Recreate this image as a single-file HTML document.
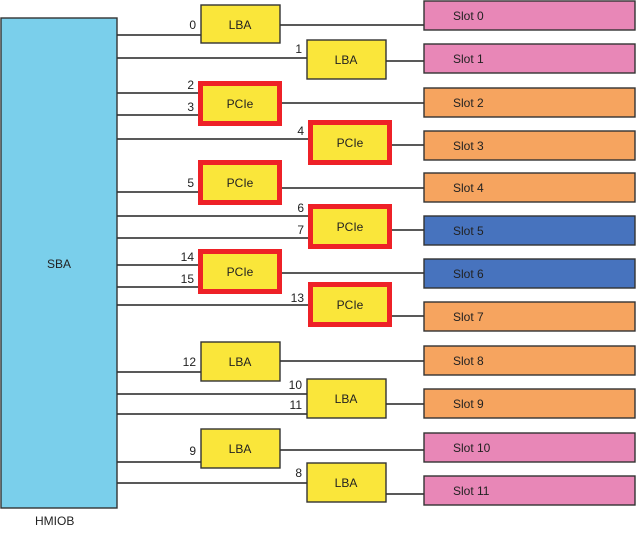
<!DOCTYPE html>
<html><head><meta charset="utf-8"><style>
body{margin:0;background:#fff;width:637px;height:532px;overflow:hidden}
svg text{font-family:"Liberation Sans",sans-serif;font-size:12px;fill:#222}
</style></head><body>
<svg width="637" height="532" viewBox="0 0 637 532" xmlns="http://www.w3.org/2000/svg">
<g stroke="#222" stroke-width="1.4" fill="none">
<!-- SBA to boxes -->
<line x1="117" y1="35" x2="201" y2="35"/>
<line x1="117" y1="58" x2="307" y2="58"/>
<line x1="117" y1="93" x2="199" y2="93"/>
<line x1="117" y1="115" x2="199" y2="115"/>
<line x1="117" y1="139" x2="309" y2="139"/>
<line x1="117" y1="192" x2="199" y2="192"/>
<line x1="117" y1="216" x2="309" y2="216"/>
<line x1="117" y1="238" x2="309" y2="238"/>
<line x1="117" y1="265" x2="199" y2="265"/>
<line x1="117" y1="287" x2="199" y2="287"/>
<line x1="117" y1="305" x2="309" y2="305"/>
<line x1="117" y1="372" x2="201" y2="372"/>
<line x1="117" y1="394" x2="307" y2="394"/>
<line x1="117" y1="414" x2="307" y2="414"/>
<line x1="117" y1="462" x2="201" y2="462"/>
<line x1="117" y1="483" x2="307" y2="483"/>
<!-- boxes to slots -->
<line x1="280" y1="25" x2="424" y2="25"/>
<line x1="386" y1="61" x2="424" y2="61"/>
<line x1="282" y1="103" x2="424" y2="103"/>
<line x1="392" y1="145" x2="424" y2="145"/>
<line x1="282" y1="188" x2="424" y2="188"/>
<line x1="392" y1="230" x2="424" y2="230"/>
<line x1="282" y1="273" x2="424" y2="273"/>
<line x1="392" y1="316" x2="424" y2="316"/>
<line x1="280" y1="361" x2="424" y2="361"/>
<line x1="386" y1="404" x2="424" y2="404"/>
<line x1="280" y1="450" x2="424" y2="450"/>
<line x1="386" y1="494" x2="424" y2="494"/>
</g>
<rect x="1" y="18" width="116" height="490" fill="#7ACFEB" stroke="#333" stroke-width="1.4"/>
<text x="59" y="268" text-anchor="middle">SBA</text>
<text x="35" y="525">HMIOB</text>
<!-- slots -->
<g stroke="#333" stroke-width="1.4">
<rect x="424" y="1" width="211" height="29" fill="#E887B7"/>
<rect x="424" y="44" width="211" height="29" fill="#E887B7"/>
<rect x="424" y="88" width="211" height="29" fill="#F6A45F"/>
<rect x="424" y="131" width="211" height="29" fill="#F6A45F"/>
<rect x="424" y="173" width="211" height="29" fill="#F6A45F"/>
<rect x="424" y="216" width="211" height="29" fill="#4773BE"/>
<rect x="424" y="259" width="211" height="29" fill="#4773BE"/>
<rect x="424" y="302" width="211" height="29" fill="#F6A45F"/>
<rect x="424" y="346" width="211" height="29" fill="#F6A45F"/>
<rect x="424" y="389" width="211" height="29" fill="#F6A45F"/>
<rect x="424" y="433" width="211" height="29" fill="#E887B7"/>
<rect x="424" y="476" width="211" height="29" fill="#E887B7"/>
</g>
<g>
<text x="453" y="20">Slot 0</text><text x="453" y="63">Slot 1</text>
<text x="453" y="107">Slot 2</text><text x="453" y="150">Slot 3</text>
<text x="453" y="192">Slot 4</text><text x="453" y="235">Slot 5</text>
<text x="453" y="278">Slot 6</text><text x="453" y="321">Slot 7</text>
<text x="453" y="365">Slot 8</text><text x="453" y="408">Slot 9</text>
<text x="453" y="452">Slot 10</text><text x="453" y="495">Slot 11</text>
</g>
<!-- LBA -->
<g stroke="#333" stroke-width="1.4" fill="#FAE63A">
<rect x="201" y="5" width="79" height="38"/>
<rect x="307" y="40" width="79" height="39"/>
<rect x="201" y="342" width="79" height="39"/>
<rect x="307" y="379" width="79" height="39"/>
<rect x="201" y="429" width="79" height="39"/>
<rect x="307" y="463" width="79" height="39"/>
</g>
<!-- PCIe -->
<g stroke="#EE2127" stroke-width="5" fill="#FAE63A">
<rect x="200.5" y="83.5" width="79" height="40"/>
<rect x="310.5" y="122.5" width="79" height="40"/>
<rect x="200.5" y="162.5" width="79" height="40"/>
<rect x="310.5" y="206.5" width="79" height="40"/>
<rect x="200.5" y="251.5" width="79" height="40"/>
<rect x="310.5" y="284.5" width="79" height="40"/>
</g>
<g text-anchor="middle">
<text x="240" y="29">LBA</text><text x="346" y="64">LBA</text>
<text x="240" y="108">PCIe</text><text x="350" y="147">PCIe</text>
<text x="240" y="187">PCIe</text><text x="350" y="231">PCIe</text>
<text x="240" y="276">PCIe</text><text x="350" y="309">PCIe</text>
<text x="240" y="366">LBA</text><text x="346" y="403">LBA</text>
<text x="240" y="453">LBA</text><text x="346" y="487">LBA</text>
</g>
<g text-anchor="end">
<text x="196" y="29">0</text><text x="302" y="53">1</text>
<text x="194" y="89">2</text><text x="194" y="111">3</text>
<text x="304" y="135">4</text><text x="194" y="187">5</text>
<text x="304" y="212">6</text><text x="304" y="234">7</text>
<text x="194" y="261">14</text><text x="194" y="283">15</text>
<text x="304" y="302">13</text><text x="196" y="366">12</text>
<text x="302" y="389">10</text><text x="302" y="409">11</text>
<text x="196" y="455">9</text><text x="302" y="477">8</text>
</g>
</svg>
</body></html>
